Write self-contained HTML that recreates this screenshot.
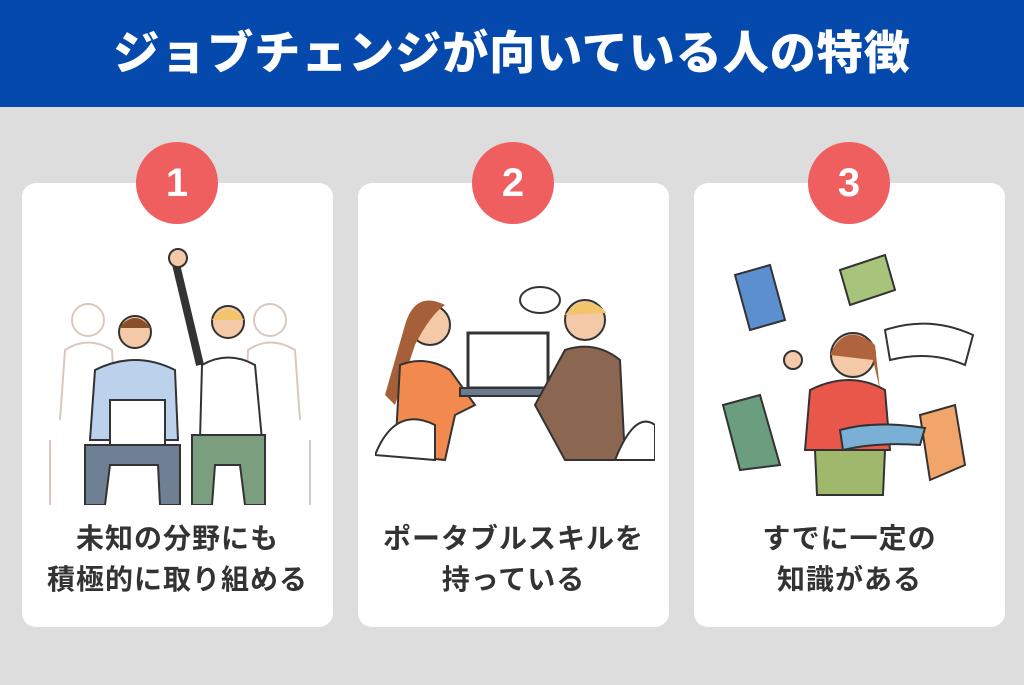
<!DOCTYPE html>
<html><head><meta charset="utf-8"><style>
*{margin:0;padding:0;box-sizing:border-box}
body{width:1024px;height:685px;background:#dddddd;position:relative;overflow:hidden;font-family:"Liberation Sans","Noto Sans CJK JP",sans-serif}
.hd{position:absolute;left:0;top:0;width:1024px;height:107px;background:#0549ad;color:#fff;font-weight:900;font-size:46px;text-align:center;line-height:107px;letter-spacing:1px}
.card{position:absolute;top:183px;width:311px;height:444px;background:#fff;border-radius:14px}
.num{position:absolute;top:142px;width:82px;height:82px;border-radius:50%;background:#ef5f60;color:#fff;font-weight:900;font-size:40px;text-align:center;line-height:82px}
.tx{position:absolute;top:518px;width:311px;text-align:center;font-weight:700;font-size:28px;line-height:41px;color:#333;letter-spacing:1px}
svg{position:absolute}
</style></head><body>
<div class="hd">ジョブチェンジが向いている人の特徴</div>
<div class="card" style="left:22px"></div>
<div class="card" style="left:358px"></div>
<div class="card" style="left:694px"></div>
<div class="num" style="left:136px">1</div>
<div class="num" style="left:472px">2</div>
<div class="num" style="left:808px">3</div>

<svg style="left:40px;top:240px" width="280" height="265">
<g fill="none" stroke="#d8c8c0" stroke-width="2">
<circle cx="48" cy="80" r="16"/><path d="M20 180 L25 110 Q48 95 72 110 L76 180"/>
<circle cx="230" cy="80" r="16"/><path d="M205 180 L208 110 Q230 95 255 110 L260 180"/>
<path d="M10 265 L10 200 M270 265 L270 200"/>
</g>
<circle cx="95" cy="92" r="16" fill="#f3c9a8" stroke="#333" stroke-width="2"/>
<path d="M79 88 Q95 68 111 88" fill="#8a4f2a"/>
<path d="M50 200 L55 130 Q95 110 135 130 L138 200Z" fill="#bcd2ec" stroke="#333" stroke-width="2"/>
<rect x="70" y="160" width="55" height="45" fill="#fff" stroke="#333" stroke-width="2"/>
<path d="M45 205 L140 205 L140 265 L120 265 L118 225 L70 225 L65 265 L45 265Z" fill="#6f7f94" stroke="#333" stroke-width="2"/>
<circle cx="188" cy="82" r="16" fill="#f3c9a8" stroke="#333" stroke-width="2"/>
<path d="M172 80 Q188 58 204 80" fill="#f2c46c"/>
<path d="M160 200 L162 125 Q188 110 215 125 L222 200Z" fill="#fff" stroke="#333" stroke-width="2"/>
<path d="M160 125 L135 20" stroke="#333" stroke-width="8"/>
<circle cx="138" cy="18" r="9" fill="#f3c9a8" stroke="#333" stroke-width="2"/>
<path d="M152 195 L225 195 L225 265 L205 265 L200 225 L175 225 L172 265 L152 265Z" fill="#7a9e7e" stroke="#333" stroke-width="2"/>
</svg>

<svg style="left:375px;top:285px" width="280" height="180">
<ellipse cx="165" cy="15" rx="20" ry="13" fill="#fff" stroke="#333" stroke-width="2"/>
<circle cx="55" cy="40" r="20" fill="#f3c9a8" stroke="#333" stroke-width="2"/>
<path d="M30 40 Q40 5 70 20 Q55 30 40 60 L20 120 L10 110Z" fill="#a5603a"/>
<path d="M20 170 L25 80 Q50 70 75 85 L100 120 L80 130 L70 175Z" fill="#f2894f" stroke="#333" stroke-width="2"/>
<rect x="93" y="48" width="80" height="55" fill="#fff" stroke="#333" stroke-width="3"/>
<rect x="85" y="103" width="95" height="8" fill="#6c7a90" stroke="#333" stroke-width="2"/>
<circle cx="210" cy="35" r="20" fill="#f3c9a8" stroke="#333" stroke-width="2"/>
<path d="M190 30 Q210 5 232 28" fill="#f2c46c"/>
<path d="M160 120 L190 65 Q220 55 245 75 L250 175 L190 175Z" fill="#8b6651" stroke="#333" stroke-width="2"/>
<path d="M0 170 Q20 120 60 140 L60 175Z M240 175 Q260 125 280 140 L280 175Z" fill="#fff" stroke="#333" stroke-width="2"/>
</svg>

<svg style="left:715px;top:250px" width="270" height="250">
<path d="M20 25 L55 15 L70 70 L35 80Z" fill="#5b8fd0" stroke="#333" stroke-width="2"/>
<path d="M125 20 L170 5 L180 40 L135 55Z" fill="#a8c47a" stroke="#333" stroke-width="2"/>
<path d="M170 80 Q215 65 258 85 L250 115 Q215 100 175 110Z" fill="#fff" stroke="#333" stroke-width="2"/>
<path d="M8 155 L45 145 L65 215 L25 220Z" fill="#6a9e7e" stroke="#333" stroke-width="2"/>
<path d="M205 165 L240 155 L250 215 L215 230Z" fill="#f2a56a" stroke="#333" stroke-width="2"/>
<circle cx="138" cy="105" r="22" fill="#f3c9a8" stroke="#333" stroke-width="2"/>
<path d="M115 105 Q130 70 160 95 L165 140 L158 110Z" fill="#b0643d"/>
<path d="M90 200 L95 140 Q135 120 170 140 L175 200Z" fill="#e8574a" stroke="#333" stroke-width="2"/>
<path d="M100 200 L170 200 L168 245 L102 245Z" fill="#9fb86c" stroke="#333" stroke-width="2"/>
<path d="M125 180 Q160 170 210 178 L205 195 Q160 192 128 200Z" fill="#7ab0d6" stroke="#333" stroke-width="2"/>
<circle cx="78" cy="110" r="9" fill="#f3c9a8" stroke="#333" stroke-width="2"/>
</svg>

<div class="tx" style="left:22px">未知の分野にも<br>積極的に取り組める</div>
<div class="tx" style="left:358px">ポータブルスキルを<br>持っている</div>
<div class="tx" style="left:694px">すでに一定の<br>知識がある</div>
</body></html>
